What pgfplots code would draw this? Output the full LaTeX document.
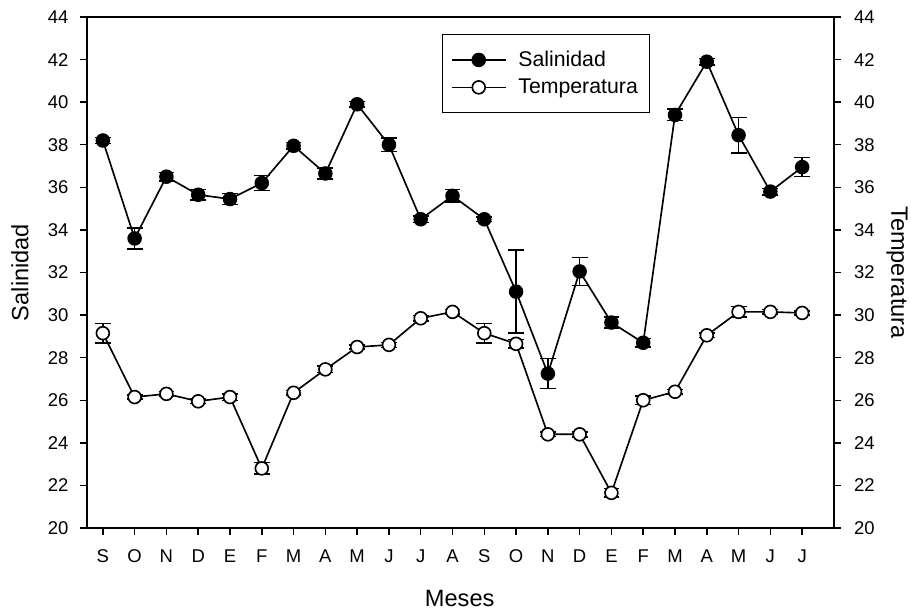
\documentclass[border=0pt]{standalone}
\usepackage{pgfplots}
\pgfplotsset{compat=1.18}
\usepackage{pgfplotstable}
\usepackage{fontspec}
\setmainfont{Liberation Sans}

\pgfplotstableread{
x y e
0 38.2 0.15
1 33.6 0.5
2 36.5 0.2
3 35.65 0.25
4 35.45 0.26
5 36.2 0.35
6 37.95 0.15
7 36.65 0.25
8 39.9 0.12
9 38.0 0.31
10 34.5 0.15
11 35.6 0.29
12 34.5 0.1
13 31.1 1.95
14 27.25 0.7
15 32.05 0.65
16 29.65 0.25
17 28.7 0.2
18 39.4 0.27
19 41.9 0.15
20 38.45 0.83
21 35.8 0.15
22 36.95 0.45
}\sal

\pgfplotstableread{
x y e
0 29.15 0.45
1 26.15 0.1
2 26.3 0.1
3 25.95 0.1
4 26.15 0.15
5 22.8 0.27
6 26.35 0.1
7 27.45 0.15
8 28.5 0.1
9 28.6 0.12
10 29.85 0.12
11 30.15 0.1
12 29.15 0.45
13 28.65 0.2
14 24.4 0.1
15 24.4 0.12
16 21.65 0.2
17 26.0 0.2
18 26.4 0.1
19 29.05 0.1
20 30.15 0.25
21 30.15 0.1
22 30.1 0.1
}\tem

\begin{document}
\begin{tikzpicture}
\pgfplotsset{
  common/.style={
    scale only axis,
    width=452.7pt, height=309.7pt,
    xmin=-0.5, xmax=23,
    ymin=20, ymax=44,
    ytick={20,22,...,44},
    tick align=outside,
    major tick length=4.2pt,
    axis line style={line width=1pt},
    every tick/.style={black, line width=0.9pt},
    /pgf/number format/assume math mode=true,
    ticklabel style={font=\fontsize{11.2}{13}\selectfont},
    label style={font=\fontsize{14.3}{17}\selectfont},
  }
}
\begin{axis}[common,
  xtick={0,...,22},
  xticklabels={S,O,N,D,E,F,M,A,M,J,J,A,S,O,N,D,E,F,M,A,M,J,J},
  xtick pos=bottom,
  ytick pos=left,
  xticklabel style={yshift=-5.5pt},
  yticklabel style={xshift=-3.5pt},
  xlabel={Meses},
  ylabel={Salinidad},
  xlabel style={at={(axis description cs:0.499,-0.137)}, anchor=center},
  ylabel style={at={(axis description cs:-0.0897,0.5)}, anchor=center},
  legend style={at={(axis description cs:0.475,0.967)}, anchor=north west,
    draw=black, line width=0.8pt, fill=white,
    font=\fontsize{12.9}{15}\selectfont,
    inner xsep=5pt, inner ysep=8pt, row sep=2pt,
    nodes={inner sep=2pt},
    /tikz/every odd column/.append style={column sep=5pt}},
  legend cell align=left,
  legend image code/.code={\draw[mark repeat=2,mark phase=2,line width=1pt] plot coordinates {(0pt,0pt) (16.5pt,0pt) (33pt,0pt)};},
]
\addplot[black, line width=1pt, mark=*, mark size=3.9pt, mark options={fill=black},
  error bars/.cd, y dir=both, y explicit,
  error bar style={line width=0.9pt},
  error mark options={line width=0.9pt, mark size=4.8pt, rotate=90}]
  table[x=x, y=y, y error=e]{\sal};
\addlegendentry{Salinidad}
\addplot[black, line width=1pt, mark=*, mark size=3.9pt, mark options={fill=white},
  error bars/.cd, y dir=both, y explicit,
  error bar style={line width=0.9pt},
  error mark options={line width=0.9pt, mark size=4.8pt, rotate=90}]
  table[x=x, y=y, y error=e]{\tem};
\addlegendentry{Temperatura}
\coordinate (sw) at (rel axis cs:0,0);
\coordinate (ne) at (rel axis cs:1,1);
\end{axis}
\begin{axis}[common,
  axis x line=none,
  axis y line*=right,
  yticklabel style={xshift=4.5pt},
  ylabel={Temperatura},
  ylabel style={rotate=180, at={(axis description cs:1.0843,0.5)}, anchor=center},
]
\addplot[draw=none] coordinates {(0,30)};
\end{axis}
\pgfresetboundingbox
\path[use as bounding box] ([xshift=-52.7pt,yshift=-50.3pt]sw) rectangle ([xshift=46.7pt,yshift=10.3pt]ne);
\end{tikzpicture}
\end{document}
